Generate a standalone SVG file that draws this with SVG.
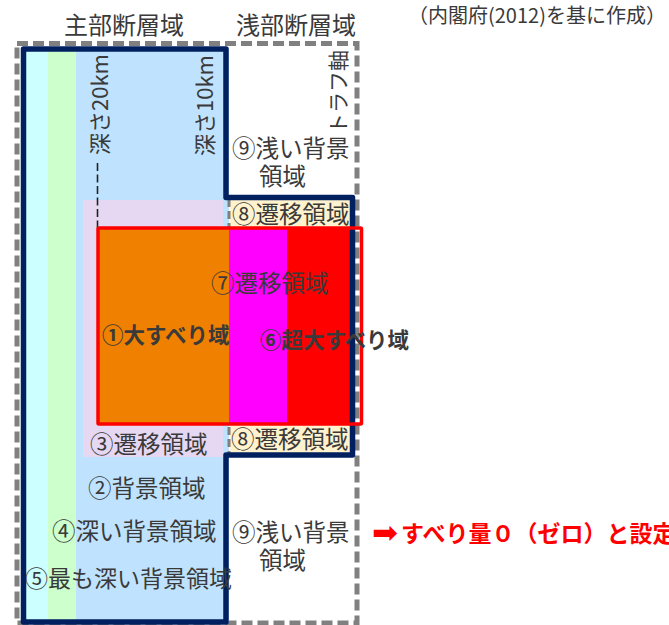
<svg xmlns="http://www.w3.org/2000/svg" width="669" height="625" viewBox="0 0 669 625">
<style>
text{font-family:"Noto Sans CJK JP","Noto Sans",sans-serif;fill:#3a3a3a;dominant-baseline:central}
.lbl{font-size:23.5px}
.bold{font-size:21.5px;font-weight:bold}
.red{font-size:23px;font-weight:bold;fill:#ff0000}
.gray{fill:none;stroke:#808080;stroke-width:5;stroke-dasharray:11 5}
</style>
<rect width="669" height="625" fill="#ffffff"/>
<g id="outer-frame">
<rect class="gray" x="17" y="43.5" width="340" height="579.5"/>
</g>
<g id="fills">
<rect x="24" y="49" width="25" height="573" fill="#ccffff"/>
<rect x="48" y="49" width="28" height="573" fill="#ccffcc"/>
<rect x="76" y="49" width="153" height="573" fill="#bfe3fe"/>
<rect x="83" y="200" width="140" height="257" fill="#e6d8f2"/>
<rect x="230" y="200" width="122" height="27" fill="#fff2cc"/>
<rect x="230" y="425" width="122" height="30" fill="#fff2cc"/>
<line x1="229" y1="199" x2="229" y2="456" stroke="#808080" stroke-width="3" stroke-dasharray="8 4"/>
<rect x="98" y="228" width="131" height="196" fill="#f08000"/>
<rect x="229" y="228" width="58" height="196" fill="#ff00ff"/>
<rect x="287" y="228" width="65" height="196" fill="#ff0000"/>
</g>
<g id="connectors">
<line x1="97.5" y1="163" x2="97.5" y2="228" stroke="#222222" stroke-width="1.6" stroke-dasharray="8 3.5"/>
</g>
<g id="main-outline">
<path d="M23.5,49 H226 V197.5 H352.5 V455 H226 V622 H23.5 Z" fill="none" stroke="#002060" stroke-width="5.5" stroke-linejoin="round"/>
</g>
<g id="slip-box">
<rect x="98" y="228" width="263.5" height="196" fill="none" stroke="#ff0000" stroke-width="3.5" rx="1"/>
</g>
<g id="header-labels">
<text x="64" y="23" style="font-size:24px">主部断層域</text>
<text x="236" y="23" style="font-size:24px">浅部断層域</text>
<text x="408" y="14" style="font-size:20px">（内閣府(2012)を基に作成）</text>
</g>
<g id="depth-labels">
<text transform="translate(98,104.5) rotate(-90)" text-anchor="middle" style="font-size:22px">深さ20km</text>
<text transform="translate(203,105.5) rotate(-90)" text-anchor="middle" style="font-size:22px">深さ10km</text>
<text transform="translate(336.5,92) rotate(-90)" text-anchor="middle" style="font-size:21px">トラフ軸</text>
</g>
<g id="node-9-upper">
<text class="lbl" x="232" y="147">⑨浅い背景</text>
<text class="lbl" x="259" y="175">領域</text>
</g>
<g id="node-8-upper"><text class="lbl" x="232" y="213">⑧遷移領域</text></g>
<g id="node-7"><text class="lbl" x="211" y="282">⑦遷移領域</text></g>
<g id="node-1"><text class="bold" x="102" y="333">①大すべり域</text></g>
<g id="node-6"><text class="bold" x="260" y="338">⑥超大すべり域</text></g>
<g id="node-8-lower"><text class="lbl" x="231" y="438">⑧遷移領域</text></g>
<g id="node-3"><text class="lbl" x="90" y="443">③遷移領域</text></g>
<g id="node-2"><text class="lbl" x="88" y="487">②背景領域</text></g>
<g id="node-4"><text class="lbl" x="52" y="530">④深い背景領域</text></g>
<g id="node-5"><text class="lbl" x="25" y="577" style="font-size:23px">⑤最も深い背景領域</text></g>
<g id="node-9-lower">
<text class="lbl" x="232" y="531">⑨浅い背景</text>
<text class="lbl" x="259" y="559">領域</text>
</g>
<g id="note">
<text x="372" y="532" style="font-family:'DejaVu Sans',sans-serif;font-size:31px;fill:#ff0000">➡</text>
<text class="red" x="401" y="532">すべり量０（ゼロ）と設定</text>
</g>
</svg>
